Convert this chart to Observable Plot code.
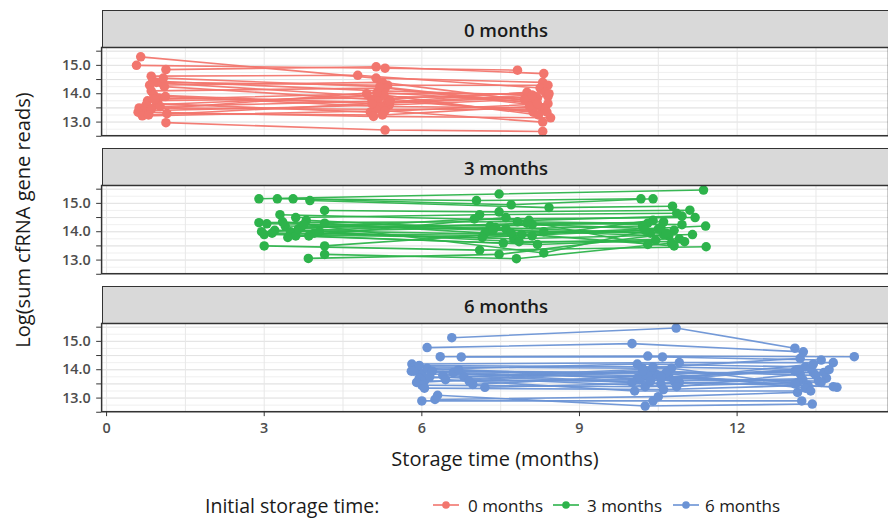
<!DOCTYPE html>
<html>
<head>
<meta charset="utf-8">
<script src="https://cdn.jsdelivr.net/npm/d3@7"></script>
<script src="https://cdn.jsdelivr.net/npm/@observablehq/plot@0.6"></script>
<style>
  html, body { margin: 0; padding: 0; background: #fff; }
  #root { position: relative; width: 888px; height: 518px; overflow: hidden; font-family: "Open Sans", sans-serif; }
  .strip { position: absolute; left: 102px; width: 800px; background: #d9d9d9; border: 1.5px solid #333; box-sizing: border-box; }
  .strip span { position: absolute; left: 403px; top: 50%; transform: translate(-50%, -50%); font-size: 18.5px; font-weight: 600; color: #1a1a1a; white-space: nowrap; }
  .panel { position: absolute; left: 0; }
  .ytitle { position: absolute; left: 22px; top: 220px; transform: translate(-50%, -50%) rotate(-90deg); font-size: 20px; color: #1a1a1a; white-space: nowrap; }
  .xtitle { position: absolute; left: 495px; top: 458px; transform: translate(-50%, -50%); font-size: 20px; color: #1a1a1a; white-space: nowrap; }
  .leg { position: absolute; top: 505px; transform: translateY(-50%); color: #1a1a1a; white-space: nowrap; }
  .leg.ttl { font-size: 19.5px; left: 205px; }
  .leg.lab { font-size: 17px; }
</style>
</head>
<body>
<div id="root"></div>
<script>
// ---------- data ----------
const facetLabels = ["0 months", "3 months", "6 months"];
const seriesColors = ["#F2766E", "#2DB34B", "#6B93D5"];
const xTicks = [0, 3, 6, 9, 12];
const yTicks = [12.5, 13, 13.5, 14, 14.5, 15, 15.5];
const legendTitle = "Initial storage time:";

// storage time (months) at the three measurements of each sample
const times0 = [
  [0.65,5.13,8.30],[0.57,5.30,7.82],[1.13,5.13,8.32],[0.85,4.78,8.25],[0.88,5.20,8.10],
  [0.95,5.35,8.40],[1.05,5.15,8.20],[0.82,5.25,8.05],[1.10,5.05,8.35],[0.85,5.30,8.15],
  [0.90,5.10,8.40],[1.00,5.35,8.00],[1.12,5.22,8.28],[0.78,5.18,8.12],[0.95,5.02,8.40],
  [0.75,5.28,8.22],[0.62,5.12,8.35],[0.70,5.38,7.95],[0.60,5.08,8.45],[0.68,5.30,8.30],
  [0.85,5.15,8.18],[1.15,5.25,8.05],[1.02,5.40,8.38],[1.13,5.30,8.30],[0.92,4.95,8.42],
  [1.08,5.20,8.20],[0.80,5.05,8.10]
];
const reads0 = [
  [15.30,14.55,14.40],[15.00,14.90,14.83],[14.85,14.95,14.71],[14.62,14.65,14.20],[14.45,14.10,13.95],
  [14.40,14.30,14.30],[14.38,13.90,13.85],[14.30,14.40,13.75],[14.25,13.80,14.05],[14.10,14.20,13.60],
  [13.95,13.65,13.90],[13.85,13.70,14.05],[13.90,13.55,13.50],[13.75,13.85,13.35],[13.65,13.35,13.65],
  [13.60,13.95,13.25],[13.50,13.45,13.45],[13.40,13.60,13.80],[13.35,13.20,13.15],[13.22,13.40,13.00],
  [13.45,14.05,13.70],[13.30,13.25,13.55],[13.55,13.75,13.35],[12.98,12.72,12.67],[13.80,14.00,14.00],
  [14.55,14.25,13.65],[13.25,13.65,13.95]
];
const times3 = [
  [2.90,7.47,11.36],[3.25,7.04,10.17],[3.55,7.70,10.40],[3.87,8.42,10.77],[4.15,7.47,11.10],
  [3.30,8.04,10.95],[3.60,7.10,10.85],[2.90,7.82,10.30],[3.05,7.30,10.60],[3.40,7.60,10.20],
  [3.70,8.10,10.50],[4.15,7.20,10.80],[3.20,7.90,11.40],[3.50,7.40,10.35],[3.80,8.32,10.70],
  [3.95,7.75,11.15],[3.00,7.15,10.25],[3.60,7.55,10.90],[3.85,8.20,10.45],[4.05,7.85,11.00],
  [3.00,7.10,11.41],[4.15,7.70,10.80],[3.84,7.47,10.60],[4.15,7.80,10.75],[3.35,8.32,10.55],
  [3.65,7.00,11.20],[3.15,8.10,10.40],[3.75,7.35,10.65],[2.95,8.00,10.95],[3.45,7.60,10.30]
];
const reads3 = [
  [15.16,15.33,15.47],[15.16,15.10,15.16],[15.16,14.95,15.16],[15.10,14.85,14.90],[14.75,14.70,14.76],
  [14.60,14.40,14.55],[14.50,14.60,14.65],[14.32,14.35,14.30],[14.28,14.20,14.35],[14.20,14.10,14.20],
  [14.15,14.25,14.10],[14.30,13.95,14.05],[14.05,13.90,14.20],[14.00,14.15,13.95],[14.40,14.00,13.85],
  [13.95,13.75,13.90],[13.90,13.80,14.05],[13.85,13.60,13.75],[13.85,13.55,13.70],[14.00,13.65,13.65],
  [13.50,13.35,13.47],[13.50,13.95,13.50],[13.06,13.20,13.90],[13.20,13.05,13.60],[14.35,13.25,14.15],
  [14.10,14.45,14.50],[13.95,13.85,14.40],[14.25,14.05,13.95],[14.00,14.30,14.25],[13.80,14.50,13.55]
];
const times6 = [
  [6.57,10.84,13.10],[6.10,10.00,13.26],[6.35,10.30,14.23],[6.75,10.58,13.60],[5.81,10.90,13.83],
  [5.85,10.20,13.20],[5.80,10.45,13.45],[5.90,10.10,13.30],[6.00,10.70,13.10],[5.95,10.35,13.50],
  [6.05,10.15,13.40],[5.85,10.55,13.25],[6.10,10.80,13.70],[6.00,10.25,13.15],[6.05,10.60,13.35],
  [6.00,10.40,13.23],[6.30,10.25,13.43],[6.25,10.50,13.15],[6.97,10.30,13.90],[7.20,10.90,13.83],
  [6.60,10.10,13.55],[6.80,10.75,13.10],[6.40,10.00,13.45],[6.20,10.65,13.65],[5.90,10.20,13.30],
  [6.15,10.85,13.20],[5.95,10.40,13.75],[6.45,10.05,13.40],[6.70,10.55,13.60],[6.90,10.35,13.15]
];
const reads6 = [
  [15.13,15.47,14.76],[14.78,14.92,14.63],[14.46,14.48,14.46],[14.45,14.45,14.34],[14.20,14.25,14.25],
  [14.10,14.05,14.40],[13.95,13.85,13.90],[14.00,14.20,14.10],[13.85,13.75,13.95],[13.70,13.95,13.80],
  [13.60,13.65,14.05],[13.95,13.50,13.65],[14.05,13.60,13.70],[13.45,13.40,13.55],[13.35,13.30,13.45],
  [12.90,12.90,12.90],[13.10,12.72,12.79],[12.95,13.05,13.20],[13.48,13.80,13.38],[13.38,13.55,13.40],
  [13.90,13.70,13.60],[13.75,14.05,13.50],[13.80,13.55,14.20],[13.95,13.90,13.90],[13.55,13.95,13.35],
  [13.75,13.40,13.85],[14.15,14.10,14.00],[13.65,13.25,13.25],[14.00,13.75,13.55],[13.60,13.60,14.00]
];

// ---------- build ----------
const allTimes = [times0, times3, times6];
const allReads = [reads0, reads3, reads6];
const root = document.getElementById("root");

const panelTops = [47, 185, 323];
const panelH = 89;
const xDomain = [-0.0943, 14.88];
const yDomain = [12.52, 15.63];
const gridX = d3.range(0, 15.1, 1.5);
const gridYMinor = d3.range(12.5, 15.7, 0.25);

facetLabels.forEach((lab, i) => {
  const rows = [];
  allTimes[i].forEach((ts, j) => ts.forEach((t, k) => rows.push({id: j, x: t, y: allReads[i][j][k]})));
  const last = i === facetLabels.length - 1;
  const color = seriesColors[i];

  const strip = document.createElement("div");
  strip.className = "strip";
  strip.style.top = (panelTops[i] - 37) + "px";
  strip.style.height = "38px";
  strip.innerHTML = `<span>${lab}</span>`;
  root.appendChild(strip);

  const marks = [
    Plot.ruleY(gridYMinor, {stroke: "#ececec", strokeWidth: 0.8}),
    Plot.ruleY(yTicks, {stroke: "#e3e3e3", strokeWidth: 1}),
    Plot.ruleX(gridX, {stroke: "#e8e8e8", strokeWidth: 1}),
    Plot.line(rows, {x: "x", y: "y", z: "id", stroke: color, strokeWidth: 1.6, strokeOpacity: 0.95}),
    Plot.dot(rows, {x: "x", y: "y", r: 4.8, fill: color, stroke: "none"}),
    Plot.axisY({ticks: yTicks, tickSize: 5, tickPadding: 6, tickFormat: d => (d % 1 === 0 ? d.toFixed(1) : ""),
      fontSize: 14.5, fontWeight: 600, fill: "#4d4d4d", stroke: "#333", label: null}),
    Plot.frame({stroke: "#333", strokeWidth: 1.5})
  ];
  if (last) {
    marks.push(Plot.axisX({ticks: xTicks, tickSize: 5, tickPadding: 6, fontSize: 14.5, fontWeight: 600, fill: "#4d4d4d", stroke: "#333", label: null}));
  }

  const chart = Plot.plot({
    width: 896,
    height: panelH + (last ? 32 : 0),
    marginLeft: 102,
    marginRight: 0,
    marginTop: 0,
    marginBottom: last ? 32 : 0,
    style: {fontFamily: "Open Sans, sans-serif", fontSize: "14.5px", background: "transparent", overflow: "visible"},
    x: {domain: xDomain, axis: null},
    y: {domain: yDomain, axis: null},
    marks
  });
  chart.classList.add("panel");
  chart.style.top = panelTops[i] + "px";
  root.appendChild(chart);
});

const yt = document.createElement("div");
yt.className = "ytitle";
yt.textContent = "Log(sum cfRNA gene reads)";
root.appendChild(yt);

const xt = document.createElement("div");
xt.className = "xtitle";
xt.textContent = "Storage time (months)";
root.appendChild(xt);

const lt = document.createElement("div");
lt.className = "leg ttl";
lt.textContent = legendTitle;
root.appendChild(lt);

const swatchX = [432, 552, 672];
const labelX = [468, 587, 705];
facetLabels.forEach((lab, i) => {
  const sw = document.createElement("div");
  sw.className = "leg";
  sw.style.left = swatchX[i] + "px";
  sw.style.height = "12px";
  sw.innerHTML = `<svg width="28" height="12" style="display:block"><line x1="1" x2="27" y1="6" y2="6" stroke="${seriesColors[i]}" stroke-width="1.6"/><circle cx="14" cy="6" r="3.8" fill="${seriesColors[i]}"/></svg>`;
  root.appendChild(sw);
  const tx = document.createElement("div");
  tx.className = "leg lab";
  tx.style.left = labelX[i] + "px";
  tx.textContent = lab;
  root.appendChild(tx);
});
</script>
</body>
</html>
